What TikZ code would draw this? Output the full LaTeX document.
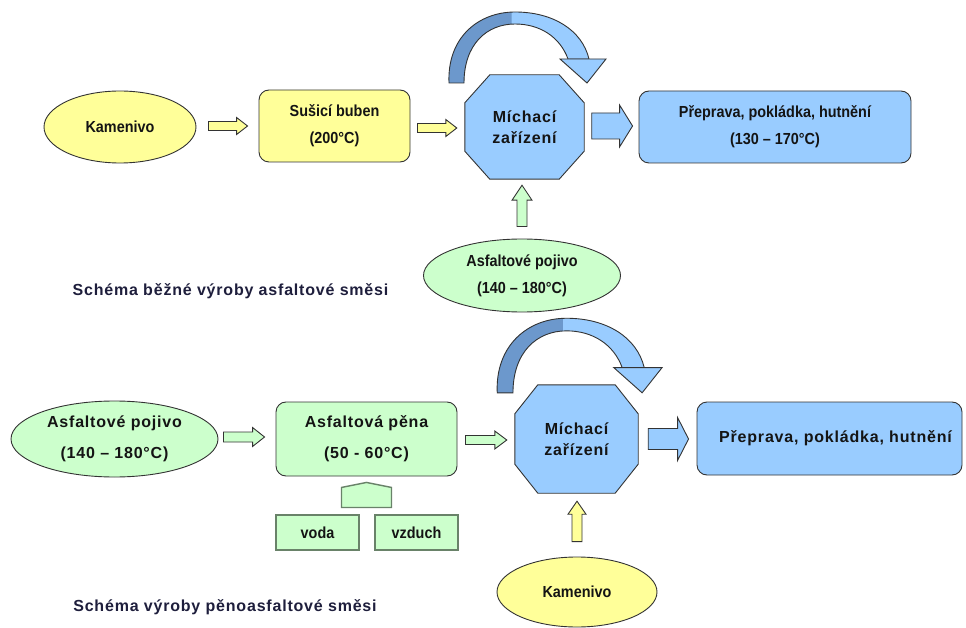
\documentclass[tikz,border=0pt]{standalone}
\usepackage{fontspec}
\setmainfont{Liberation Sans}
\newfontfamily\narrowf{Liberation Sans}[FakeStretch=0.9]
\newfontfamily\widef{Liberation Sans}[LetterSpace=5]
\usetikzlibrary{shapes.geometric,calc,backgrounds}
\definecolor{yel}{HTML}{FFFF99}
\definecolor{grn}{HTML}{CCFFCC}
\definecolor{blu}{HTML}{99CCFF}
\definecolor{bluD}{RGB}{108,152,204}
\definecolor{edge}{HTML}{333333}
\definecolor{sedge}{RGB}{105,130,105}
\definecolor{ink}{HTML}{141414}
\definecolor{navy}{HTML}{1E1E3C}
\tikzset{
  base/.style={draw=edge, line width=0.9pt, inner sep=0pt, text=ink},
  tn/.style={font=\narrowf\bfseries\fontsize{16}{27}\selectfont, align=center},
  tw/.style={font=\widef\bfseries\fontsize{16}{31}\selectfont, align=center},
  tm/.style={font=\widef\bfseries\fontsize{16}{21}\selectfont, align=center},
  ell/.style={base, ellipse},
  rbox/.style={base, rectangle, rounded corners=10pt},
  sbox/.style={draw=sedge, line width=1.4pt, fill=grn, inner sep=0pt, text=ink, rectangle},
  mixbox/.style={inner sep=0pt, text=ink, rectangle},
  octo/.style={draw=edge, line width=0.9pt, fill=blu},
  arr/.style={draw=edge, line width=0.9pt},
  captext/.style={font=\widef\bfseries\fontsize{16}{20}\selectfont, text=navy, inner sep=0pt},
  mixloop/.pic={
    \fill[blu] \bandpath;
    \begin{scope}
      \clip (-95,-135) rectangle (-13,-30);
      \fill[bluD] \bandpath;
    \end{scope}
    \draw[edge, line width=0.9pt] \bandpath;
    \filldraw[fill=blu, draw=edge, line width=0.9pt] (35.5,-68) -- (81.5,-68) -- (62.5,-44) -- cycle;
  }
}
\newcommand\bandpath{(-75.5,-44) .. controls (-77.5,-89) and (-46.5,-115) .. (-9.5,-115) .. controls (28.5,-115) and (57.5,-97) .. (64.5,-68) -- (43.5,-68) .. controls (35.5,-90) and (15.5,-103) .. (-9.5,-103) .. controls (-37.5,-103) and (-60.5,-83) .. (-60.5,-44) -- cycle}
% horizontal block arrow: style, from, to, shaft half, head half, head length
\newcommand\blockH[6]{%
  \draw[#1] let \p1=(#2), \p2=(#3) in
    (\x1,\y1+#4pt) -- (\x2-#6pt,\y1+#4pt) -- (\x2-#6pt,\y1+#5pt) -- (\x2,\y1)
    -- (\x2-#6pt,\y1-#5pt) -- (\x2-#6pt,\y1-#4pt) -- (\x1,\y1-#4pt) -- cycle;}
% upward block arrow: style, from (bottom), to (tip), shaft half, head half, head length
\newcommand\blockV[6]{%
  \draw[#1] let \p1=(#2), \p2=(#3) in
    (\x1-#4pt,\y1) -- (\x1-#4pt,\y2-#6pt) -- (\x1-#5pt,\y2-#6pt) -- (\x1,\y2)
    -- (\x1+#5pt,\y2-#6pt) -- (\x1+#4pt,\y2-#6pt) -- (\x1+#4pt,\y1) -- cycle;}
% octagon behind a named node: node, chamfer x, chamfer y
\newcommand\octagonbg[3]{%
  \begin{pgfonlayer}{background}
  \filldraw[octo] ($(#1.north west)+(#2,0)$) -- ($(#1.north east)+(-#2,0)$)
    -- ($(#1.north east)+(0,#3)$) -- ($(#1.south east)+(0,-#3)$)
    -- ($(#1.south east)+(-#2,0)$) -- ($(#1.south west)+(#2,0)$)
    -- ($(#1.south west)+(0,-#3)$) -- ($(#1.north west)+(0,#3)$) -- cycle;
  \end{pgfonlayer}}
\begin{document}
\begin{tikzpicture}[x=1pt, y=-1pt]
\useasboundingbox (0,0) rectangle (966,628);

% ---------- top scheme ----------
\node[ell, tn, fill=yel, minimum width=152pt, minimum height=72pt] (kam1) at (120,127) {Kamenivo};
\node[rbox, tn, fill=yel, minimum width=151pt, minimum height=72pt] (sus) at (334.5,126) {Sušicí buben\\(200°C)};
\node[mixbox, tm, minimum width=119pt, minimum height=104pt] (mix1) at (524.5,127) {Míchací\\zařízení};
\octagonbg{mix1}{25}{28}
\node[rbox, tn, fill=blu, minimum width=272pt, minimum height=72pt] (pre1) at (775,127) {Přeprava, pokládka, hutnění\\(130 – 170°C)};
\node[ell, tn, fill=grn, minimum width=197pt, minimum height=73pt] (asf1) at (522,275.5) {Asfaltové pojivo\\(140 – 180°C)};
\node[captext] (cap1) at (230.5,291) {Schéma běžné výroby asfaltové směsi};

\blockH{arr, fill=yel}{$(kam1.east)+(12,-1)$}{$(sus.west)+(-11,0)$}{4.5}{8.5}{11}
\blockH{arr, fill=yel}{$(sus.east)+(7,2)$}{$(mix1.west)+(-8,0)$}{4.5}{8.5}{11}
\blockH{arr, fill=blu}{$(mix1.east)+(7.5,-1)$}{$(pre1.west)+(-6,0)$}{13}{21}{13}
\blockV{arr, fill=grn}{$(asf1.north)+(0,-12)$}{$(mix1.south)+(0,6)$}{5}{10}{15}
\pic at (mix1.center) {mixloop};

% ---------- bottom scheme ----------
\node[ell, tw, fill=grn, minimum width=207pt, minimum height=76pt] (asf2) at (114.5,439) {Asfaltové pojivo\\(140 – 180°C)};
\node[rbox, tw, fill=grn, minimum width=181pt, minimum height=74pt] (pena) at (366.5,439) {Asfaltová pěna\\(50 - 60°C)};
\node[sbox, tn, minimum width=83pt, minimum height=35pt] (voda) at (317.5,532.5) {voda};
\node[sbox, tn, minimum width=83pt, minimum height=35pt] (vzduch) at (416.5,532.5) {vzduch};
\filldraw[draw=sedge, line width=1.4pt, fill=grn] ($(pena.south)+(0,6)$) -- ($(pena.south)+(25,11)$) -- ($(pena.south)+(25,31)$) -- ($(pena.south)+(-25,31)$) -- ($(pena.south)+(-25,11)$) -- cycle;
\node[mixbox, tm, minimum width=123pt, minimum height=108pt] (mix2) at (576.5,439) {Míchací\\zařízení};
\octagonbg{mix2}{23}{29}
\node[rbox, tw, fill=blu, minimum width=265pt, minimum height=73pt] (pre2) at (829.5,438.5) {\hspace*{12pt}Přeprava, pokládka, hutnění};
\node[ell, tn, fill=yel, minimum width=160pt, minimum height=70pt] (kam2) at (577,592) {Kamenivo};
\node[captext] (cap2) at (225,607) {Schéma výroby pěnoasfaltové směsi};

\blockH{arr, fill=grn}{$(asf2.east)+(5,-2)$}{$(pena.west)+(-11,0)$}{5}{9.5}{12}
\blockH{arr, fill=grn}{$(pena.east)+(8,1)$}{$(mix2.west)+(-8,0)$}{4.5}{9}{12}
\blockH{arr, fill=blu}{$(mix2.east)+(10,0)$}{$(pre2.west)+(-8,0)$}{10.5}{21.5}{11}
\blockV{arr, fill=yel}{$(kam2.north)+(0,-15)$}{$(mix2.south)+(0,8)$}{5}{9}{13}
\pic[scale=1.05] at (mix2.center) {mixloop};
\end{tikzpicture}
\end{document}
